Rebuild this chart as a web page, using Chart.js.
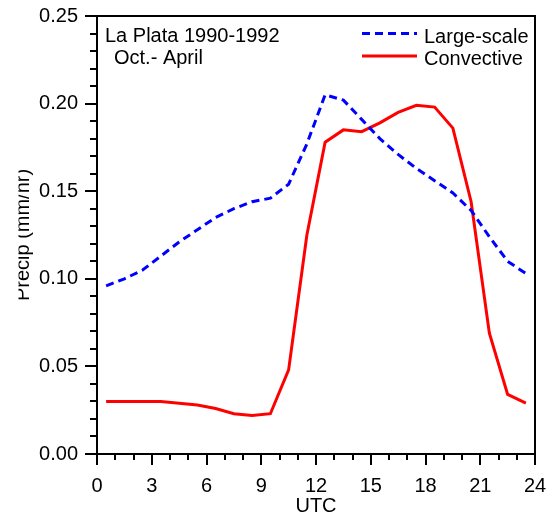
<!DOCTYPE html>
<html>
<head>
<meta charset="utf-8">
<script src="https://cdn.jsdelivr.net/npm/chart.js@4"></script>
<style>
  html, body { margin: 0; padding: 0; background: #fff; }
  #wrap { width: 548px; height: 516px; }
</style>
</head>
<body>
<div id="wrap"><canvas id="c" width="548" height="516"></canvas></div>
<script>
// Mean diurnal cycle of precipitation, La Plata 1990-1992, Oct.-April
const hoursUTC = [0.5, 1.5, 2.5, 3.5, 4.5, 5.5, 6.5, 7.5, 8.5, 9.5, 10.5, 11.5,
                  12.5, 13.5, 14.5, 15.5, 16.5, 17.5, 18.5, 19.5, 20.5, 21.5, 22.5, 23.5];
const largeScale = [0.096, 0.100, 0.105, 0.113, 0.121, 0.128, 0.135, 0.140, 0.144, 0.146, 0.154, 0.177,
                    0.205, 0.202, 0.191, 0.180, 0.171, 0.163, 0.156, 0.149, 0.139, 0.124, 0.110, 0.103];
const convective = [0.030, 0.030, 0.030, 0.030, 0.029, 0.028, 0.026, 0.023, 0.022, 0.023, 0.048, 0.125,
                    0.178, 0.185, 0.184, 0.189, 0.195, 0.199, 0.198, 0.186, 0.144, 0.069, 0.034, 0.029];
const xTicks = [0, 3, 6, 9, 12, 15, 18, 21, 24];
const yTicks = [0.00, 0.05, 0.10, 0.15, 0.20, 0.25];
const seriesNames = ['Large-scale', 'Convective'];
const noteLines = ['La Plata 1990-1992', 'Oct.- April'];

const FONT = '"Liberation Sans", Arial, sans-serif';
const FS = 20;

const pts = (ys) => hoursUTC.map((h, i) => ({ x: h, y: ys[i] }));

// Frame, minor ticks, y title, in-plot note and legend
const decor = {
  id: 'decor',
  afterDraw(chart) {
    const { ctx, chartArea: a, scales: { x, y } } = chart;
    ctx.save();
    ctx.strokeStyle = '#000';
    ctx.lineWidth = 2;
    ctx.strokeRect(a.left, a.top, a.right - a.left, a.bottom - a.top);

    // minor ticks
    ctx.beginPath();
    for (let h = x.min; h <= x.max; h += 1) {
      if (h % 3 === 0) continue;
      const px = Math.round(x.getPixelForValue(h));
      ctx.moveTo(px, a.bottom);
      ctx.lineTo(px, a.bottom + 6);
    }
    for (let k = 0; k <= 25; k++) {
      if (k % 5 === 0) continue;
      const py = Math.round(y.getPixelForValue(k / 100));
      ctx.moveTo(a.left, py);
      ctx.lineTo(a.left - 7, py);
    }
    ctx.stroke();

    // y-axis title (its left edge is cut off)
    ctx.save();
    ctx.beginPath();
    ctx.rect(18.5, 0, 100, chart.height);
    ctx.clip();
    ctx.translate(29, (a.top + a.bottom) / 2);
    ctx.rotate(-Math.PI / 2);
    ctx.fillStyle = '#000';
    ctx.font = FS + 'px ' + FONT;
    ctx.textAlign = 'center';
    ctx.textBaseline = 'alphabetic';
    ctx.fillText('Precip (mm/hr)', 0, 0);
    ctx.restore();

    // note
    ctx.fillStyle = '#000';
    ctx.font = FS + 'px ' + FONT;
    ctx.textAlign = 'left';
    ctx.textBaseline = 'alphabetic';
    ctx.fillText(noteLines[0], a.left + 8, 42);
    ctx.fillText(noteLines[1], a.left + 17, 64);

    // legend
    const rows = [42.5, 65];
    chart.data.datasets.forEach((ds, i) => {
      const ly = rows[i] - 9;
      ctx.strokeStyle = ds.borderColor;
      ctx.lineWidth = ds.borderWidth;
      ctx.setLineDash(ds.borderDash || []);
      ctx.beginPath();
      ctx.moveTo(362, ly);
      ctx.lineTo(417, ly);
      ctx.stroke();
      ctx.setLineDash([]);
      ctx.fillStyle = '#000';
      ctx.fillText(ds.label, 424, rows[i]);
    });
    ctx.restore();
  }
};

new Chart(document.getElementById('c'), {
  type: 'line',
  data: {
    datasets: [
      { label: seriesNames[0], data: pts(largeScale), borderColor: '#0000ff',
        borderWidth: 3, borderDash: [8, 5], pointRadius: 0, fill: false, tension: 0 },
      { label: seriesNames[1], data: pts(convective), borderColor: '#ff0000',
        borderWidth: 3, pointRadius: 0, fill: false, tension: 0 }
    ]
  },
  options: {
    responsive: false,
    animation: false,
    layout: { padding: { left: 0, top: 16, right: 13, bottom: 0 } },
    plugins: { legend: { display: false }, tooltip: { enabled: false } },
    scales: {
      x: {
        type: 'linear', min: 0, max: 24,
        afterBuildTicks: (s) => { s.ticks = xTicks.map(v => ({ value: v })); },
        afterFit: (s) => { s.height = 62; s.paddingLeft = 0; s.paddingRight = 0; },
        grid: { display: true, drawOnChartArea: false, drawTicks: true, tickLength: 11,
                color: '#000', lineWidth: 2 },
        border: { display: false },
        ticks: { color: '#000', font: { family: FONT, size: FS }, padding: 9,
                 maxRotation: 0, autoSkip: false },
        title: { display: true, text: 'UTC', color: '#000',
                 font: { family: FONT, size: FS }, padding: { top: 0, bottom: -2 } }
      },
      y: {
        type: 'linear', min: 0, max: 0.25,
        afterBuildTicks: (s) => { s.ticks = yTicks.map(v => ({ value: v })); },
        afterFit: (s) => { s.width = 97; s.paddingTop = 0; s.paddingBottom = 0; },
        grid: { display: true, drawOnChartArea: false, drawTicks: true, tickLength: 12,
                color: '#000', lineWidth: 2 },
        border: { display: false },
        ticks: { color: '#000', font: { family: FONT, size: FS }, padding: 7,
                 callback: (v) => v.toFixed(2) }
      }
    }
  },
  plugins: [decor]
});
</script>
</body>
</html>
